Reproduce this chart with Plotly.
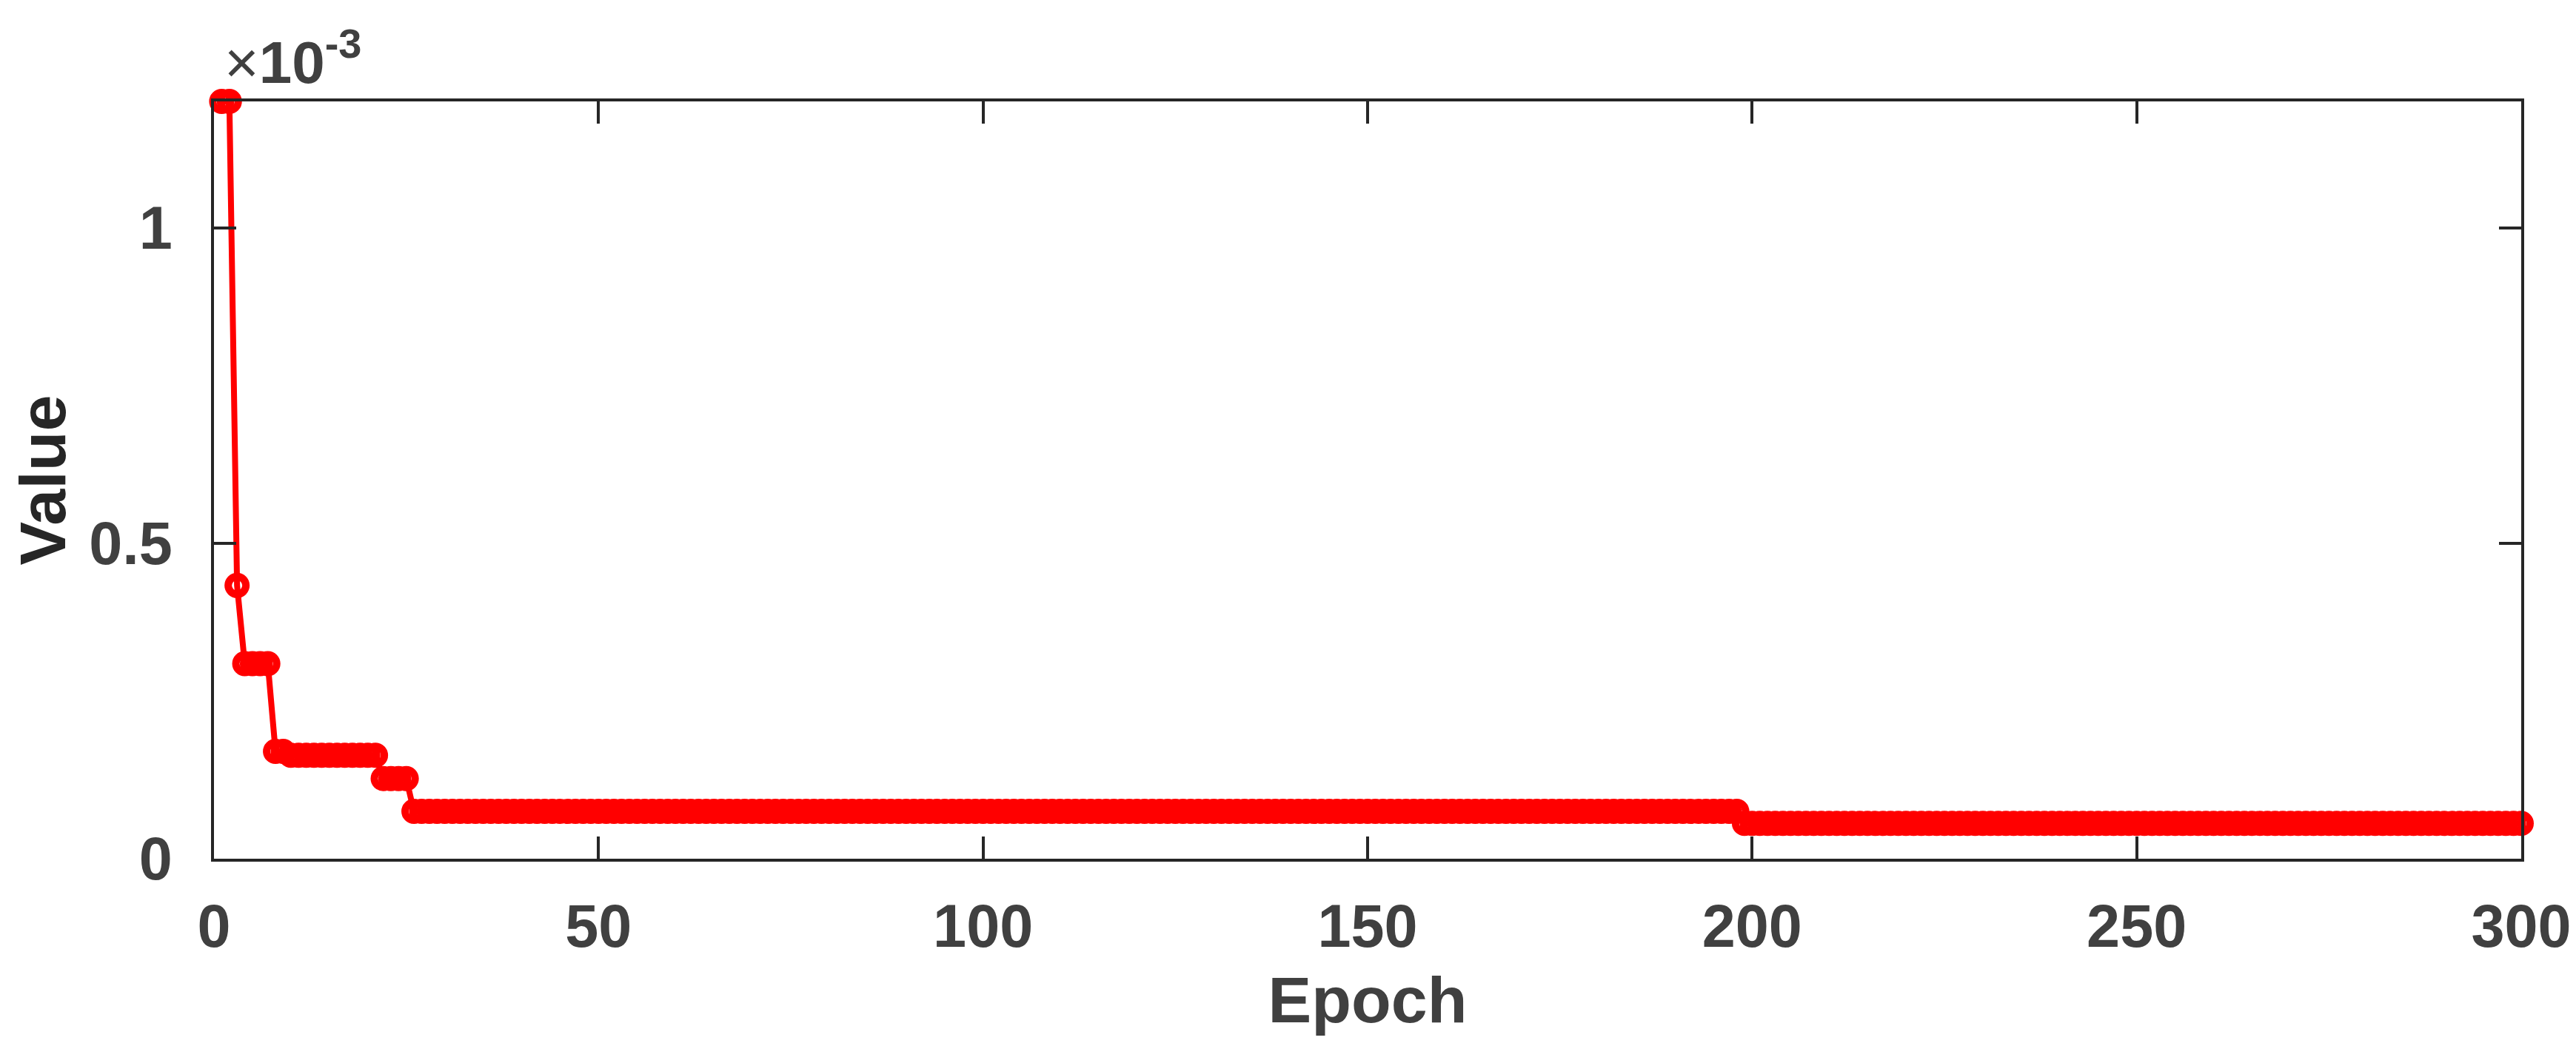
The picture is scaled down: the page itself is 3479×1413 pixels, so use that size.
import plotly.graph_objects as go

# Plateaus: first epoch of each level and its value
step_start = [1, 3, 4, 8, 10, 22, 26, 199]
step_value = [1.2e-3, 0.433e-3, 0.309e-3, 0.170e-3, 0.164e-3, 0.127e-3, 0.075e-3, 0.056e-3]
last_epoch = 300

x_ticks = [0, 50, 100, 150, 200, 250, 300]
y_ticks = [0, 0.5e-3, 1e-3]
y_tick_text = ["0", "0.5", "1"]

# Expand the plateaus into one value per epoch
epochs, values = [], []
bounds = step_start[1:] + [last_epoch + 1]
for start, stop, v in zip(step_start, bounds, step_value):
    for e in range(start, stop):
        epochs.append(e)
        values.append(v)

RED = "#ff0000"
AXIS = "#262626"
TEXT = "#404040"

fig = go.Figure()
fig.add_trace(
    go.Scatter(x=epochs, y=values, mode="lines+markers",
               line=dict(color=RED, width=8),
               marker=dict(symbol="circle-open", size=24, color=RED,
                           line=dict(color=RED, width=10)),
               showlegend=False, cliponaxis=False)
)

axis_common = dict(
    showline=True, linecolor=AXIS, linewidth=4, mirror="ticks",
    ticks="inside", ticklen=30, tickwidth=4, tickcolor=AXIS,
    showgrid=False, zeroline=False,
    tickfont=dict(family="Liberation Sans", size=81, color=TEXT, weight="bold"),
)

fig.update_xaxes(
    range=[0, 300], tickvals=x_ticks, ticklabelstandoff=18,
    title=dict(text="Epoch", standoff=25,
               font=dict(family="Liberation Sans", size=88, color=TEXT, weight="bold")),
    **axis_common
)
fig.update_yaxes(
    range=[0, 1.2e-3], tickvals=y_ticks, ticktext=y_tick_text, ticklabelstandoff=36,
    title=dict(text="Value", standoff=25,
               font=dict(family="Liberation Sans", size=88, color=AXIS, weight="bold")),
    **axis_common
)

# MATLAB-style exponent label above the y axis
fig.add_annotation(
    text="<span style='font-weight:normal'>×</span>10<sup>-3</sup>",
    xref="paper", yref="paper", x=0, y=1,
    xanchor="left", yanchor="bottom", xshift=12, yshift=6, showarrow=False,
    font=dict(family="Liberation Sans", size=80, color=TEXT, weight="bold")
)

fig.update_layout(
    width=3479, height=1413,
    margin=dict(l=281, r=82, t=129, b=261),
    plot_bgcolor="white", paper_bgcolor="white",
)

fig.write_html("out.html")
